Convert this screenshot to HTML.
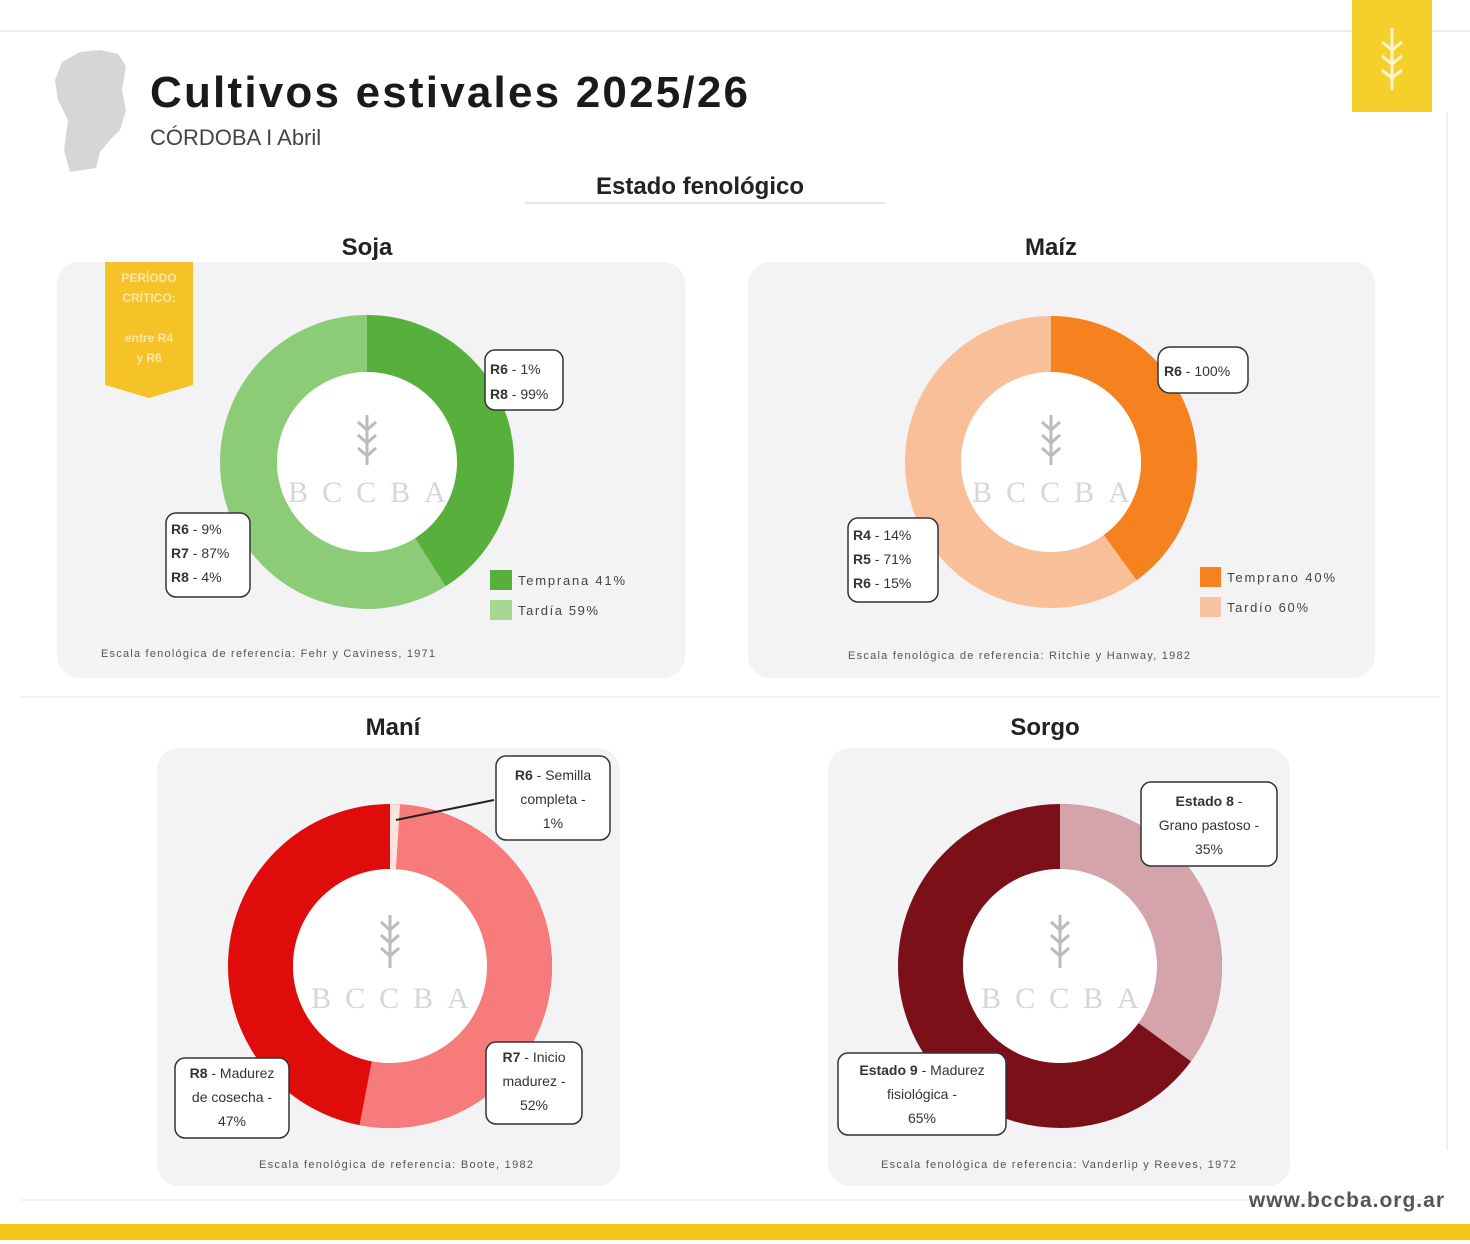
<!DOCTYPE html>
<html><head><meta charset="utf-8"><style>
html,body{margin:0;padding:0;background:#fff}
svg{display:block}
text{font-family:"Liberation Sans","DejaVu Sans",sans-serif}
</style></head><body>
<svg width="1470" height="1244" viewBox="0 0 1470 1244" xmlns="http://www.w3.org/2000/svg">
<rect width="1470" height="1244" fill="#fff"/>
<line x1="0" y1="31" x2="1470" y2="31" stroke="#eeeeee" stroke-width="2"/>
<line x1="1447" y1="112" x2="1447" y2="1150" stroke="#f0f0f0" stroke-width="2"/>
<line x1="20" y1="697" x2="1440" y2="697" stroke="#f3f3f3" stroke-width="2"/>
<line x1="20" y1="1200" x2="1440" y2="1200" stroke="#f3f3f3" stroke-width="2"/>
<path d="M62,62 L80,52 L100,50 L118,54 L126,66 L122,90 L126,110 L120,130 L110,140 L100,152 L96,168 L70,172 L64,150 L68,120 L58,100 L55,80 Z" fill="#d6d6d6"/>
<text x="150" y="107" font-size="44" font-weight="bold" fill="#1a1a1a" letter-spacing="2" textLength="600" lengthAdjust="spacing">Cultivos estivales 2025/26</text>
<text x="150" y="145" font-size="22" fill="#444">CÓRDOBA I Abril</text>
<rect x="1352" y="0" width="80" height="112" fill="#f5d02b"/>
<g stroke="#fff" stroke-width="3" fill="none" opacity="0.8"><line x1="1392" y1="28" x2="1392" y2="90"/><path d="M1392,50 l-10,-8 M1392,50 l10,-8 M1392,64 l-10,-8 M1392,64 l10,-8 M1392,78 l-10,-8 M1392,78 l10,-8"/></g>
<text x="700" y="194" font-size="24" font-weight="bold" text-anchor="middle" fill="#222">Estado fenológico</text>
<line x1="525" y1="203" x2="885" y2="203" stroke="#e6e6e6" stroke-width="2"/>

<rect x="57" y="262" width="628" height="416" rx="22" fill="#f3f3f5"/>
<rect x="748" y="262" width="627" height="416" rx="22" fill="#f3f3f5"/>
<rect x="157" y="748" width="463" height="438" rx="22" fill="#f3f3f5"/>
<rect x="828" y="748" width="462" height="438" rx="22" fill="#f3f3f5"/>

<g font-size="24" font-weight="bold" text-anchor="middle" fill="#222">
<text x="367" y="255">Soja</text><text x="1051" y="255">Maíz</text>
<text x="393" y="735">Maní</text><text x="1045" y="735">Sorgo</text>
</g>

<path d="M105,262 H193 V385 L149,398 L105,385 Z" fill="#f5c227"/>
<g font-size="12" font-weight="bold" fill="#fbe7a6" text-anchor="middle"><text x="149" y="282">PERÍODO</text><text x="149" y="302">CRÍTICO:</text><text x="149" y="342">entre R4</text><text x="149" y="362">y R6</text></g>
<circle cx="367" cy="462" r="118.5" fill="none" stroke="#8dcc77" stroke-width="57"/>
<circle cx="367" cy="462" r="118.5" fill="none" stroke="#58b03c" stroke-width="57" stroke-dasharray="305.3 1000" transform="rotate(-90 367 462)"/>
<circle cx="367" cy="462" r="90" fill="#fff"/>
<circle cx="1051" cy="462" r="118" fill="none" stroke="#f8bf98" stroke-width="56"/>
<circle cx="1051" cy="462" r="118" fill="none" stroke="#f5821f" stroke-width="56" stroke-dasharray="296.6 1000" transform="rotate(-90 1051 462)"/>
<circle cx="1051" cy="462" r="90" fill="#fff"/>
<circle cx="390" cy="966" r="129.5" fill="none" stroke="#e00b0b" stroke-width="65"/>
<circle cx="390" cy="966" r="129.5" fill="none" stroke="#f77b7b" stroke-width="65" stroke-dasharray="0 8.1 423.1 1000" transform="rotate(-90 390 966)"/>
<circle cx="390" cy="966" r="129.5" fill="none" stroke="#fde3e0" stroke-width="65" stroke-dasharray="8.1 1000" transform="rotate(-90 390 966)"/>
<circle cx="390" cy="966" r="97" fill="#fff"/>
<circle cx="1060" cy="966" r="129.5" fill="none" stroke="#7b1019" stroke-width="65"/>
<circle cx="1060" cy="966" r="129.5" fill="none" stroke="#d5a3aa" stroke-width="65" stroke-dasharray="284.8 1000" transform="rotate(-90 1060 966)"/>
<circle cx="1060" cy="966" r="97" fill="#fff"/>

<g font-size="30" fill="#d6d6d6" text-anchor="middle" letter-spacing="14">
<text x="374" y="502" style="font-family:'Liberation Serif',serif">BCCBA</text>
<text x="1058" y="502" style="font-family:'Liberation Serif',serif">BCCBA</text>
<text x="397" y="1008" style="font-family:'Liberation Serif',serif">BCCBA</text>
<text x="1067" y="1008" style="font-family:'Liberation Serif',serif">BCCBA</text>
</g>
<g stroke="#bbb" stroke-width="3" fill="none">
<path d="M367,415 V465 M367,430 l-9,-8 M367,430 l9,-8 M367,443 l-9,-8 M367,443 l9,-8 M367,456 l-9,-8 M367,456 l9,-8"/>
<path d="M1051,415 V465 M1051,430 l-9,-8 M1051,430 l9,-8 M1051,443 l-9,-8 M1051,443 l9,-8 M1051,456 l-9,-8 M1051,456 l9,-8"/>
<path d="M390,915 V968 M390,930 l-9,-8 M390,930 l9,-8 M390,943 l-9,-8 M390,943 l9,-8 M390,956 l-9,-8 M390,956 l9,-8"/>
<path d="M1060,915 V968 M1060,930 l-9,-8 M1060,930 l9,-8 M1060,943 l-9,-8 M1060,943 l9,-8 M1060,956 l-9,-8 M1060,956 l9,-8"/>
</g>

<g fill="#fff" stroke="#333" stroke-width="1.5">
<rect x="485" y="350" width="78" height="60" rx="10"/>
<rect x="166" y="513" width="84" height="84" rx="10"/>
<rect x="1158" y="347" width="90" height="46" rx="12"/>
<rect x="848" y="518" width="90" height="84" rx="10"/>
<rect x="496" y="756" width="114" height="84" rx="10"/>
<rect x="175" y="1058" width="114" height="80" rx="10"/>
<rect x="486" y="1042" width="96" height="82" rx="10"/>
<rect x="1141" y="782" width="136" height="84" rx="10"/>
<rect x="838" y="1053" width="168" height="82" rx="10"/>
</g>
<line x1="396" y1="820" x2="494" y2="800" stroke="#222" stroke-width="2"/>
<g font-size="14" fill="#333">
<text x="490" y="374"><tspan font-weight="bold">R6</tspan> - 1%</text>
<text x="490" y="399"><tspan font-weight="bold">R8</tspan> - 99%</text>
<text x="171" y="534"><tspan font-weight="bold">R6</tspan> - 9%</text>
<text x="171" y="558"><tspan font-weight="bold">R7</tspan> - 87%</text>
<text x="171" y="582"><tspan font-weight="bold">R8</tspan> - 4%</text>
<text x="1164" y="376"><tspan font-weight="bold">R6</tspan> - 100%</text>
<text x="853" y="540"><tspan font-weight="bold">R4</tspan> - 14%</text>
<text x="853" y="564"><tspan font-weight="bold">R5</tspan> - 71%</text>
<text x="853" y="588"><tspan font-weight="bold">R6</tspan> - 15%</text>
</g>
<g font-size="14" fill="#333" text-anchor="middle">
<text x="553" y="780"><tspan font-weight="bold">R6</tspan> - Semilla</text>
<text x="553" y="804">completa -</text><text x="553" y="828">1%</text>
<text x="232" y="1078"><tspan font-weight="bold">R8</tspan> - Madurez</text>
<text x="232" y="1102">de cosecha -</text><text x="232" y="1126">47%</text>
<text x="534" y="1062"><tspan font-weight="bold">R7</tspan> - Inicio</text>
<text x="534" y="1086">madurez -</text><text x="534" y="1110">52%</text>
<text x="1209" y="806"><tspan font-weight="bold">Estado 8</tspan> -</text>
<text x="1209" y="830">Grano pastoso -</text><text x="1209" y="854">35%</text>
<text x="922" y="1075"><tspan font-weight="bold">Estado 9</tspan> - Madurez</text>
<text x="922" y="1099">fisiológica -</text><text x="922" y="1123">65%</text>
</g>

<rect x="490" y="570" width="22" height="20" fill="#58b03c"/>
<rect x="490" y="600" width="22" height="20" fill="#a6d894"/>
<g font-size="13" fill="#444"><text x="518" y="585" textLength="107">Temprana 41%</text><text x="518" y="615" textLength="80">Tardía 59%</text>
<text x="1227" y="582" textLength="108">Temprano 40%</text><text x="1227" y="612" textLength="81">Tardío 60%</text></g>
<rect x="1200" y="567" width="21" height="20" fill="#f5821f"/>
<rect x="1200" y="597" width="21" height="20" fill="#f8c4a0"/>

<g font-size="11" fill="#555">
<text x="101" y="657" textLength="334">Escala fenológica de referencia: Fehr y Caviness, 1971</text>
<text x="848" y="659" textLength="342">Escala fenológica de referencia: Ritchie y Hanway, 1982</text>
<text x="259" y="1168" textLength="274">Escala fenológica de referencia: Boote, 1982</text>
<text x="881" y="1168" textLength="355">Escala fenológica de referencia: Vanderlip y Reeves, 1972</text>
</g>

<text x="1445" y="1207" font-size="21" font-weight="bold" fill="#555" text-anchor="end" letter-spacing="1">www.bccba.org.ar</text>
<rect x="0" y="1224" width="1470" height="16" fill="#f5c518"/>
</svg>
</body></html>
